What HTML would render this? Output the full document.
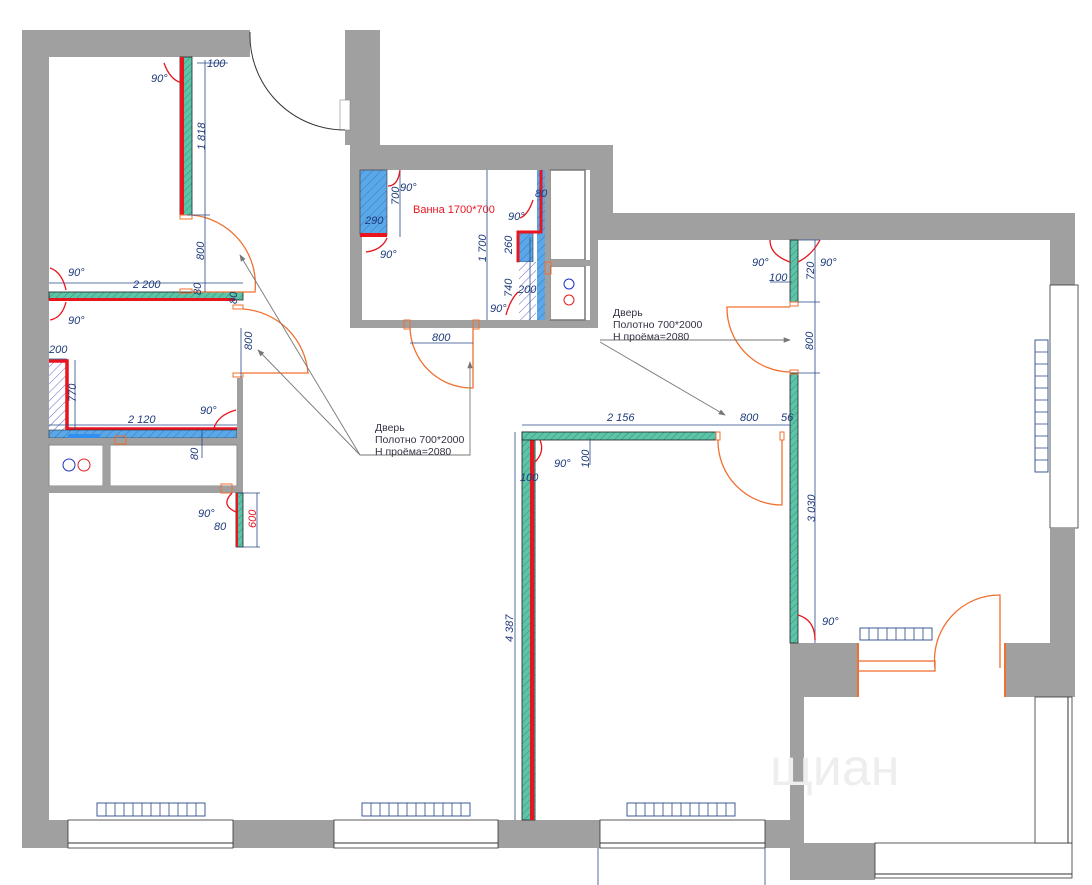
<!DOCTYPE html>
<html><head><meta charset="utf-8"><style>
html,body{margin:0;padding:0;background:#fff;}
svg{display:block;font-family:"Liberation Sans",sans-serif;}
.d{fill:#1f3a7a;font-size:11px;font-style:italic;}
.dl{stroke:#2a4a8a;stroke-width:0.8;fill:none;}
.g{fill:#a0a0a0;}
.gw{fill:#5cc4a8;stroke:#222;stroke-width:0.8;}
.r{fill:#e8141e;}
.or{stroke:#f07030;stroke-width:1.3;fill:none;}
.red{fill:#e8141e;font-size:11px;font-style:italic;}
.ld{stroke:#777;stroke-width:0.9;fill:none;}
.t{fill:#334;font-size:10.5px;}
.rad{fill:#fff;stroke:#2a4a8a;stroke-width:0.9;}
.win{fill:#fff;stroke:#333;stroke-width:0.8;}
.a{stroke:#e8141e;stroke-width:1.3;fill:none;}
</style></head><body>
<svg width="1092" height="885" viewBox="0 0 1092 885" xmlns="http://www.w3.org/2000/svg">
<defs>
<pattern id="h" width="5" height="5" patternUnits="userSpaceOnUse" patternTransform="rotate(45)"><rect width="5" height="5" fill="#5cc4a8"/><line x1="0" y1="0" x2="0" y2="5" stroke="#3a8f78" stroke-width="1"/></pattern>
<pattern id="hb" width="6" height="6" patternUnits="userSpaceOnUse" patternTransform="rotate(45)"><rect width="6" height="6" fill="#5ba8e8"/><line x1="0" y1="0" x2="0" y2="6" stroke="#3a78c0" stroke-width="1"/></pattern>
<pattern id="hw" width="6" height="6" patternUnits="userSpaceOnUse" patternTransform="rotate(45)"><rect width="6" height="6" fill="#fff"/><line x1="0" y1="0" x2="0" y2="6" stroke="#6a6ad0" stroke-width="1"/></pattern>
<marker id="ar" markerWidth="8" markerHeight="8" refX="7" refY="4" orient="auto"><path d="M0,1 L8,4 L0,7 z" fill="#777"/></marker>
</defs>

<!-- outer walls -->
<rect class="g" x="22" y="30" width="228" height="27"/>
<rect class="g" x="22" y="30" width="27" height="818"/>
<rect class="g" x="22" y="820" width="768" height="28"/>
<rect class="g" x="345" y="30" width="35" height="115"/>
<rect x="340" y="100" width="10" height="30" fill="#fff" stroke="#888" stroke-width="0.6"/>
<rect class="g" x="350" y="145" width="263" height="25"/>
<rect class="g" x="350" y="145" width="12" height="183"/>
<rect class="g" x="352" y="320" width="246" height="8"/>
<rect class="g" x="590" y="145" width="23" height="95"/>
<rect class="g" x="590" y="213" width="485" height="27"/>
<rect class="g" x="590" y="240" width="8" height="88"/>
<rect class="g" x="1050" y="213" width="25" height="72"/>
<rect x="1050" y="285" width="28" height="243" fill="#fff" stroke="#333" stroke-width="0.8"/>
<rect class="g" x="1050" y="528" width="25" height="117"/>
<!-- closets near bath -->
<rect x="550" y="170" width="35" height="90" fill="#fff" stroke="#777" stroke-width="1.5"/>
<rect x="550" y="266" width="35" height="54" fill="#fff" stroke="#777" stroke-width="1.5"/>
<rect class="g" x="545" y="170" width="5" height="150"/>
<rect class="g" x="550" y="260" width="40" height="6"/>
<circle cx="569" cy="284" r="5" fill="none" stroke="#2030c0" stroke-width="1"/>
<circle cx="569" cy="300" r="5" fill="none" stroke="#e02020" stroke-width="1"/>

<!-- bottom windows -->
<rect class="win" x="68" y="820" width="165" height="28"/>
<rect class="win" x="334" y="820" width="164" height="28"/>
<rect class="win" x="600" y="820" width="165" height="28"/>
<line x1="68" y1="843" x2="233" y2="843" stroke="#333"/><line x1="334" y1="843" x2="498" y2="843" stroke="#333"/><line x1="600" y1="843" x2="765" y2="843" stroke="#333"/>
<line x1="598" y1="848" x2="598" y2="885" stroke="#2a4a8a" stroke-width="0.8"/>
<line x1="765" y1="848" x2="765" y2="885" stroke="#2a4a8a" stroke-width="0.8"/>

<!-- balcony -->
<rect class="g" x="790" y="643" width="68" height="54"/>
<rect class="g" x="1005" y="643" width="70" height="54"/>
<rect class="g" x="790" y="697" width="14" height="183"/>
<rect class="g" x="804" y="843" width="71" height="37"/>
<rect class="win" x="875" y="843" width="197" height="35"/>
<line x1="875" y1="874" x2="1072" y2="874" stroke="#333"/>
<rect class="win" x="1035" y="697" width="37" height="146"/>
<line x1="1068" y1="697" x2="1068" y2="843" stroke="#333"/>
<line x1="858" y1="643" x2="858" y2="697" stroke="#f07030" stroke-width="2"/>
<line x1="1005" y1="643" x2="1005" y2="697" stroke="#f07030" stroke-width="2"/>
<rect x="858" y="661" width="77" height="10" fill="none" stroke="#f07030" stroke-width="1.3"/>
<path class="or" d="M935,668 A65,65 0 0 1 1000,595 L1000,668"/>
<text x="770" y="785" font-size="52" fill="#eee" font-family="Liberation Sans">щиан</text>

<!-- radiators -->
<g>
<rect class="rad" x="97" y="803" width="108" height="13"/>
<rect class="rad" x="362" y="803" width="108" height="13"/>
<rect class="rad" x="627" y="803" width="108" height="13"/>
<rect class="rad" x="860" y="628" width="72" height="12"/>
<rect class="rad" x="1035" y="340" width="13" height="132"/>
<path d="M106,803v13M115,803v13M124,803v13M133,803v13M142,803v13M151,803v13M160,803v13M169,803v13M178,803v13M187,803v13M196,803v13 M371,803v13M380,803v13M389,803v13M398,803v13M407,803v13M416,803v13M425,803v13M434,803v13M443,803v13M452,803v13M461,803v13 M636,803v13M645,803v13M654,803v13M663,803v13M672,803v13M681,803v13M690,803v13M699,803v13M708,803v13M717,803v13M726,803v13 M869,628v12M878,628v12M887,628v12M896,628v12M905,628v12M914,628v12M923,628v12 M1035,352h13M1035,364h13M1035,376h13M1035,388h13M1035,400h13M1035,412h13M1035,424h13M1035,436h13M1035,448h13M1035,460h13" stroke="#2a4a8a" stroke-width="0.8"/>
</g>

<!-- left partitions -->
<rect x="180" y="57" width="12" height="158" fill="url(#h)" stroke="#222" stroke-width="0.8"/>
<rect class="r" x="180" y="57" width="4" height="158"/>
<rect x="49" y="292" width="194" height="8" fill="url(#h)" stroke="#222" stroke-width="0.8"/>
<rect class="r" x="49" y="298" width="186" height="3"/>
<rect x="49" y="360" width="18" height="70" fill="url(#hw)"/>
<path d="M49,361 H67 V429 H237" stroke="#e8141e" stroke-width="3.5" fill="none"/>
<rect x="49" y="430" width="188" height="8" fill="url(#hb)" stroke="#333" stroke-width="0.6"/>
<rect x="68" y="434" width="32" height="4" fill="#2f8ff0"/>
<rect class="g" x="237" y="378" width="6" height="115"/>
<rect class="g" x="49" y="438" width="194" height="7"/>
<rect x="49" y="445" width="54" height="41" fill="#fff" stroke="#888"/>
<rect x="110" y="445" width="127" height="41" fill="#fff" stroke="#888"/>
<rect class="g" x="103" y="445" width="7" height="41"/>
<rect class="g" x="49" y="486" width="194" height="7"/>
<circle cx="69" cy="465" r="6" fill="none" stroke="#2030c0"/><circle cx="84" cy="465" r="6" fill="none" stroke="#e02020"/>
<rect x="115" y="436" width="11" height="8" fill="none" stroke="#f07030"/>
<rect x="221" y="484" width="11" height="9" fill="none" stroke="#f07030"/>
<rect x="236" y="493" width="7" height="54" fill="url(#h)" stroke="#222" stroke-width="0.8"/>
<rect class="r" x="236" y="493" width="2" height="54"/>

<!-- left doors -->
<rect x="180" y="215" width="12" height="4" fill="none" stroke="#f07030"/>
<path class="or" d="M192,215 A70,70 0 0 1 255,292 L192,292"/>
<rect x="180" y="289" width="12" height="4" fill="none" stroke="#f07030"/>
<rect x="233" y="305" width="10" height="4" fill="none" stroke="#f07030"/>
<path class="or" d="M243,309 A70,70 0 0 1 308,373 L243,373"/>
<rect x="233" y="373" width="10" height="4" fill="none" stroke="#f07030"/>

<!-- bathroom -->
<rect x="360" y="170" width="27" height="65" fill="url(#hb)" stroke="#333" stroke-width="0.6"/>
<rect class="r" x="360" y="233" width="27" height="4"/>
<rect x="517" y="232" width="16" height="30" fill="url(#hb)" stroke="#333" stroke-width="0.6"/>
<rect x="519" y="262" width="17" height="58" fill="url(#hw)"/>
<rect x="537" y="170" width="8" height="150" fill="url(#hb)"/>
<path d="M541,170 V232 H518 V262" stroke="#e8141e" stroke-width="3" fill="none"/>
<rect x="545" y="262" width="6" height="12" fill="none" stroke="#f07030"/>
<rect x="404" y="320" width="6" height="9" fill="none" stroke="#f07030"/>
<rect x="473" y="320" width="6" height="9" fill="none" stroke="#f07030"/>
<path class="or" d="M410,327 A62,62 0 0 0 473,388 L473,327"/>
<text x="413" y="213" class="red" style="font-style:normal">Ванна 1700*700</text>

<!-- middle partitions -->
<rect x="522" y="432" width="13" height="388" fill="url(#h)" stroke="#222" stroke-width="0.8"/>
<rect class="r" x="530" y="440" width="4" height="380"/>
<rect x="522" y="432" width="194" height="8" fill="url(#h)" stroke="#222" stroke-width="0.8"/>
<rect x="716" y="432" width="4" height="8" fill="none" stroke="#f07030"/>
<path class="or" d="M718,440 A64,64 0 0 0 782,505 L782,440"/>
<rect x="780" y="432" width="4" height="8" fill="none" stroke="#f07030"/>
<rect x="790" y="240" width="8" height="62" fill="url(#h)" stroke="#222" stroke-width="0.8"/>
<rect x="790" y="373" width="8" height="270" fill="url(#h)" stroke="#222" stroke-width="0.8"/>
<rect x="790" y="302" width="8" height="4" fill="none" stroke="#f07030"/>
<rect x="790" y="370" width="8" height="4" fill="none" stroke="#f07030"/>
<path class="or" d="M790,307 L727,307 A64,64 0 0 0 790,372"/>

<!-- entry door -->
<path d="M250,32 A95,95 0 0 0 345,130" stroke="#333" stroke-width="1" fill="none"/>

<!-- dimension lines -->
<g class="dl">
<path d="M205,60 V292 M197,63 H228 M187,215 H210 M49,283 H243 M241,328 V378 M75,360 V430 M49,359 H67 M49,425 H237 M202,430 V458 M257,493 V547 M238,547 H260 M238,493 H260"/>
<path d="M400,170 V237 M487,170 V320 M530,237 V262 M530,262 V320 M410,343 H473 M522,425 H790 M515,432 V820 M590,438 V465 M815,240 V643 M798,302 H820 M798,373 H820 M798,240 H820 M770,282 H792"/>
</g>
<!-- angle arrows -->
<g class="a">
<path d="M164,63 Q170,80 182,83"/><path d="M50,268 Q62,272 66,290"/><path d="M66,302 Q62,318 50,320"/>
<path d="M236,410 Q218,415 214,428"/><path d="M232,493 Q220,505 236,512"/>
<path d="M400,170 Q398,186 388,186"/><path d="M387,238 Q382,250 366,252"/><path d="M533,200 Q528,215 520,218"/><path d="M518,292 Q510,300 506,315"/>
<path d="M770,240 Q770,255 790,262"/><path d="M820,240 Q812,255 798,262"/><path d="M540,440 Q545,452 535,462"/><path d="M798,615 Q815,620 815,640"/>
</g>

<!-- dim texts -->
<g class="d">
<text x="207" y="67">100</text><text x="151" y="82">90°</text>
<text transform="translate(205,150) rotate(-90)">1 818</text>
<text transform="translate(204,260) rotate(-90)">800</text>
<text x="133" y="288">2 200</text><text x="68" y="276">90°</text><text x="68" y="324">90°</text>
<text transform="translate(201,295) rotate(-90)">80</text><text transform="translate(237,304) rotate(-90)">80</text>
<text transform="translate(252,350) rotate(-90)">800</text>
<text x="49" y="353">200</text><text transform="translate(76,402) rotate(-90)">770</text>
<text x="128" y="423">2 120</text><text x="200" y="414">90°</text>
<text transform="translate(198,460) rotate(-90)">80</text>
<text x="198" y="517">90°</text><text x="214" y="530">80</text>
<text transform="translate(256,528) rotate(-90)" class="red">600</text>
<text x="400" y="191">90°</text><text transform="translate(399,205) rotate(-90)">700</text>
<text x="365" y="224">290</text><text x="380" y="258">90°</text>
<text transform="translate(486,262) rotate(-90)">1 700</text>
<text x="535" y="197">80</text><text x="508" y="220">90°</text>
<text transform="translate(512,254) rotate(-90)">260</text><text transform="translate(512,297) rotate(-90)">740</text>
<text x="518" y="293">200</text><text x="490" y="312">90°</text>
<text x="432" y="341">800</text>
<text x="607" y="421">2 156</text><text x="740" y="421">800</text><text x="781" y="421">56</text>
<text x="554" y="467">90°</text><text transform="translate(589,468) rotate(-90)">100</text>
<text x="520" y="481">100</text>
<text transform="translate(513,642) rotate(-90)">4 387</text>
<text x="752" y="266">90°</text><text x="820" y="266">90°</text><text x="769" y="281">100</text>
<text transform="translate(814,280) rotate(-90)">720</text>
<text transform="translate(813,350) rotate(-90)">800</text>
<text transform="translate(815,522) rotate(-90)">3 030</text>
<text x="822" y="625">90°</text>
</g>

<!-- leaders -->
<g class="ld">
<path d="M360,455 L240,255" marker-end="url(#ar)"/>
<path d="M360,455 L258,350" marker-end="url(#ar)"/>
<path d="M360,455 H470 V362" marker-end="url(#ar)"/>
<path d="M600,340 H790" marker-end="url(#ar)"/>
<path d="M600,342 L725,415" marker-end="url(#ar)"/>
</g>
<text class="t" x="375" y="431">Дверь</text>
<text class="t" x="375" y="443">Полотно 700*2000</text>
<text class="t" x="375" y="455">Н проёма=2080</text>
<text class="t" x="613" y="316">Дверь</text>
<text class="t" x="613" y="328">Полотно 700*2000</text>
<text class="t" x="613" y="340">Н проёма=2080</text>
</svg>
</body></html>
